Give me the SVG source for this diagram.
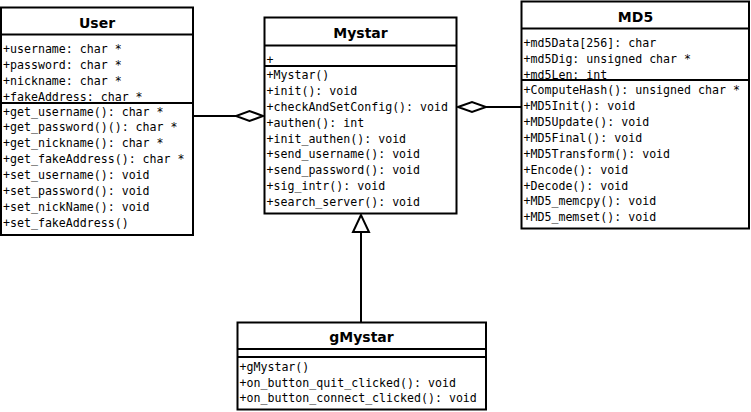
<svg xmlns="http://www.w3.org/2000/svg" width="751" height="412" viewBox="0 0 751 412">
<style>
.box{fill:#fff;stroke:#000;stroke-width:2}
.div{stroke:#000;stroke-width:2}
.title{font-family:"DejaVu Sans",sans-serif;font-weight:bold;font-size:14px;text-anchor:middle;fill:#000}
.m{font-family:"DejaVu Sans Mono","Liberation Mono",monospace;font-size:11.6px;fill:#000}
.ln{stroke:#000;stroke-width:2;fill:none}
.hd{fill:#fff;stroke:#000;stroke-width:2;stroke-linejoin:miter}
</style>
<rect width="751" height="412" fill="#fff"/>
<g id="connectors">
<line class="ln" x1="193" y1="116" x2="236" y2="116"/>
<polygon class="hd" points="263,116 249.5,111 236,116 249.5,121"/>
<line class="ln" x1="521.5" y1="107" x2="486" y2="107"/>
<polygon class="hd" points="458,107 472,102 486,107 472,112"/>
<line class="ln" x1="361" y1="322" x2="361" y2="232"/>
<polygon class="hd" points="361,215 353,232 369,232"/>
</g>
<g id="User">
<rect class="box" x="1" y="7.5" width="192" height="227.5"/>
<line class="div" x1="1" y1="34.5" x2="193" y2="34.5"/>
<line class="div" x1="1" y1="103" x2="193" y2="103"/>
<text class="title" x="97" y="27.5">User</text>
<text class="m" x="3" y="52.8">+username: char *</text>
<text class="m" x="3" y="68.7">+password: char *</text>
<text class="m" x="3" y="84.6">+nickname: char *</text>
<text class="m" x="3" y="100.5">+fakeAddress: char *</text>
<text class="m" x="3" y="115.5">+get_username(): char *</text>
<text class="m" x="3" y="131.4">+get_password()(): char *</text>
<text class="m" x="3" y="147.3">+get_nickname(): char *</text>
<text class="m" x="3" y="163.2">+get_fakeAddress(): char *</text>
<text class="m" x="3" y="179.1">+set_username(): void</text>
<text class="m" x="3" y="195">+set_password(): void</text>
<text class="m" x="3" y="210.9">+set_nickName(): void</text>
<text class="m" x="3" y="226.8">+set_fakeAddress()</text>
</g>
<g id="Mystar">
<rect class="box" x="264.5" y="17.5" width="192" height="196"/>
<line class="div" x1="264.5" y1="45.5" x2="456.5" y2="45.5"/>
<line class="div" x1="264.5" y1="66" x2="456.5" y2="66"/>
<text class="title" x="360.5" y="38.3">Mystar</text>
<text class="m" x="266.5" y="64">+</text>
<text class="m" x="266.5" y="78.9">+Mystar()</text>
<text class="m" x="266.5" y="94.8">+init(): void</text>
<text class="m" x="266.5" y="110.7">+checkAndSetConfig(): void</text>
<text class="m" x="266.5" y="126.6">+authen(): int</text>
<text class="m" x="266.5" y="142.5">+init_authen(): void</text>
<text class="m" x="266.5" y="158.4">+send_username(): void</text>
<text class="m" x="266.5" y="174.3">+send_password(): void</text>
<text class="m" x="266.5" y="190.2">+sig_intr(): void</text>
<text class="m" x="266.5" y="206.1">+search_server(): void</text>
</g>
<g id="MD5">
<rect class="box" x="521.5" y="1.5" width="227.5" height="227"/>
<line class="div" x1="521.5" y1="28.5" x2="749" y2="28.5"/>
<line class="div" x1="521.5" y1="80" x2="749" y2="80"/>
<text class="title" x="635.5" y="21.7">MD5</text>
<text class="m" x="523.5" y="46.8">+md5Data[256]: char</text>
<text class="m" x="523.5" y="62.7">+md5Dig: unsigned char *</text>
<text class="m" x="523.5" y="78.6">+md5Len: int</text>
<text class="m" x="523.5" y="94.1">+ComputeHash(): unsigned char *</text>
<text class="m" x="523.5" y="110">+MD5Init(): void</text>
<text class="m" x="523.5" y="125.9">+MD5Update(): void</text>
<text class="m" x="523.5" y="141.8">+MD5Final(): void</text>
<text class="m" x="523.5" y="157.7">+MD5Transform(): void</text>
<text class="m" x="523.5" y="173.6">+Encode(): void</text>
<text class="m" x="523.5" y="189.5">+Decode(): void</text>
<text class="m" x="523.5" y="205.4">+MD5_memcpy(): void</text>
<text class="m" x="523.5" y="221.3">+MD5_memset(): void</text>
</g>
<g id="gMystar">
<rect class="box" x="237.5" y="322.5" width="248.5" height="87"/>
<line class="div" x1="237.5" y1="349" x2="486" y2="349"/>
<line class="div" x1="237.5" y1="357" x2="486" y2="357"/>
<text class="title" x="361.5" y="341.7">gMystar</text>
<text class="m" x="239.5" y="370.6">+gMystar()</text>
<text class="m" x="239.5" y="386.5">+on_button_quit_clicked(): void</text>
<text class="m" x="239.5" y="402.4">+on_button_connect_clicked(): void</text>
</g>
</svg>
